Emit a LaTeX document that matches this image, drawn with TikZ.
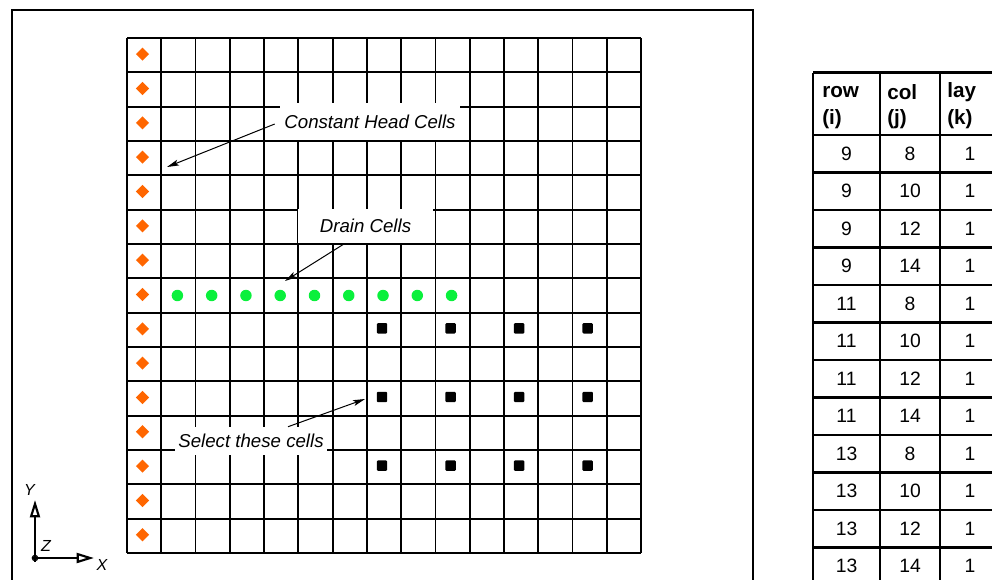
\documentclass[tikz,border=0pt]{standalone}
\usepackage{fontspec}
\setmainfont{Liberation Sans}
\usetikzlibrary{arrows.meta,shapes.geometric}
\definecolor{chorange}{RGB}{255,102,0}
\definecolor{drgreen}{RGB}{10,240,60}
\begin{document}
\begin{tikzpicture}[x=0.75pt,y=-0.75pt,
  frameline/.style={line width=1.6pt},
  gridline/.style={line width=1.4pt},
  tabline/.style={line width=2.2pt},
  chd/.style={diamond,fill=chorange,inner sep=0pt,minimum size=10pt},
  drn/.style={circle,fill=drgreen,inner sep=0pt,minimum size=8.6pt},
  selc/.style={rectangle,rounded corners=0.8pt,fill=black,inner sep=0pt,minimum size=7.8pt},
  lbl/.style={fill=white,inner sep=0pt,font=\fontsize{14}{16}\selectfont\itshape},
  ptr/.style={line width=0.75pt,-{Stealth[length=9pt,width=4.5pt,inset=2pt]}},
  axis/.style={line width=0.8pt,-{Triangle[open,length=13pt,width=7.5pt,line width=1.6pt]}},
  axlbl/.style={inner sep=0pt,font=\fontsize{12}{14}\selectfont\itshape},
  thead/.style={inner sep=0pt,anchor=west,font=\fontsize{15.5}{18}\selectfont\bfseries},
  tcell/.style={inner sep=0pt,font=\fontsize{14.5}{17}\selectfont}
]
\useasboundingbox (0,0) rectangle (992,579);
\fill[white] (0,0) rectangle (992,579);
\clip (0,0) rectangle (992,579);
% outer frame
\draw[frameline] (12,600) -- (12,10) -- (753,10) -- (753,600);
% grid
\foreach \i in {0,...,15} {
  \draw[gridline] ({127+34.27*\i},38) -- ({127+34.27*\i},553);
  \draw[gridline] (127,{38+34.33*\i}) -- (641,{38+34.33*\i});
}
% constant head cells
\foreach \r in {0,...,14}
  \node[chd] (ch\r) at (142.5,{38+34.33*(\r+0.5)-1}) {};
% drain cells
\foreach \c in {1,...,9}
  \node[drn] (dr\c) at ({127+34.27*(\c+0.5)-1},295.5) {};
% selected cells
\foreach \r in {8,10,12}
  \foreach \c in {7,9,11,13}
    \node[selc] (s\r-\c) at ({127+34.27*(\c+0.5)-2},{38+34.33*(\r+0.5)-1.5}) {};
% labels
\node[lbl,minimum width=135pt,minimum height=27.5pt] (chlabel) at (370,121.5) {Constant Head Cells};
\node[lbl,minimum width=101pt,minimum height=25.5pt] (drlabel) at (365.5,226) {Drain Cells};
\node[lbl,minimum width=114pt,minimum height=21pt] (sellabel) at (251,441) {Select these cells};
\coordinate (chtip) at (167,167);
\coordinate (drtip) at (285,281);
\coordinate (seltip) at (365,399);
\draw[ptr] ([shift={(-5,2.5)}]chlabel.west) -- (chtip);
\draw[ptr] ([shift={(-22,1)}]drlabel.south) -- (drtip);
\draw[ptr] ([shift={(37,0)}]sellabel.north) -- (seltip);
% axis triad
\coordinate (O) at (35,558);
\coordinate (ytip) at (35,500);
\coordinate (xtip) at (94,558);
\draw[axis] (O) -- (ytip);
\draw[axis] (O) -- (xtip);
\draw[line width=1pt] (O) circle (2.6);
\draw[line width=0.8pt] ([shift={(-3.5,0)}]O) -- ([shift={(3.5,0)}]O);
\draw[line width=0.8pt] ([shift={(0,-3.5)}]O) -- ([shift={(0,3.5)}]O);
\node[axlbl] (ylbl) at (29.5,490) {Y};
\node[axlbl] (xlbl) at (102,565) {X};
\node[axlbl] (zlbl) at (46,546) {Z};
% table
\foreach \x in {813,880,940,1000}
  \draw[tabline] (\x,72.7) -- (\x,600);
\draw[tabline] (813,72.7) -- (1000,72.7);
\foreach \k in {0,...,12}
  \draw[tabline] (813,{135+37.5*\k}) -- (1000,{135+37.5*\k});
\node[thead] (h1a) at (822,92) {row};
\node[thead] (h1b) at (822,119) {(i)};
\node[thead] (h2a) at (887,92) {col};
\node[thead] (h2b) at (887,119) {(j)};
\node[thead] (h3a) at (947,92) {lay};
\node[thead] (h3b) at (947,119) {(k)};
\foreach \rv/\cv [count=\n from 0] in {9/8,9/10,9/12,9/14,11/8,11/10,11/12,11/14,13/8,13/10,13/12,13/14} {
  \node[tcell] (tr\n) at (846.5,{135+37.5*(\n+0.5)}) {\rv};
  \node[tcell] (tc\n) at (910,{135+37.5*(\n+0.5)}) {\cv};
  \node[tcell] (tl\n) at (970,{135+37.5*(\n+0.5)}) {1};
}
\end{tikzpicture}
\end{document}
